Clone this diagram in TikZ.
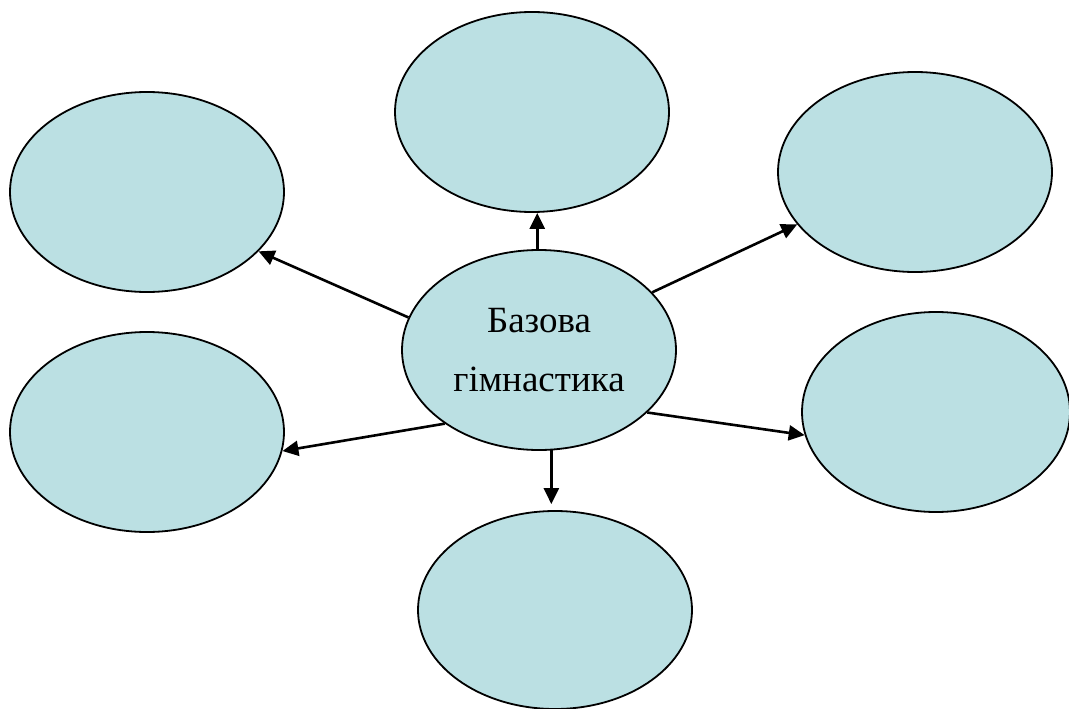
\documentclass[tikz,border=0pt]{standalone}
\usepackage{fontspec}
\setmainfont{Liberation Serif}
\usetikzlibrary{shapes.geometric,arrows.meta}
\definecolor{bubble}{RGB}{187,224,227}
\tikzset{
  bub/.style={ellipse, draw=black, line width=1.8pt, fill=bubble,
    minimum width=274pt, minimum height=200pt, inner sep=0pt},
  conn/.style={line width=2.6pt, -{Triangle[length=16pt,width=15pt]}}
}
\begin{document}
\begin{tikzpicture}[x=1pt,y=-1pt]
\path[use as bounding box, clip] (0,0) rectangle (1069,709);
\fill[white] (0,0) rectangle (1069,709);
\node[bub] (top) at (532,112) {};
\node[bub] (tl) at (147,192) {};
\node[bub] (tr) at (915,172) {};
\node[bub] (bl) at (147,432) {};
\node[bub, minimum width=268pt] (r) at (936,412) {};
\node[bub, minimum height=198pt] (b) at (555,610) {};
\node[bub, align=center, font=\fontsize{37}{59}\selectfont] (c) at (539,350) {Базова\\гімнастика};
\draw[conn] (c.91) -- (c.91 |- top.south);
\draw[conn] (c.166) -- (tl.332);
\draw[conn] (c.27.6) -- (tr.204.5);
\draw[conn] (c.218) -- (bl.352);
\draw[conn] (c.330) -- (r.190);
\draw[conn] (c.-83) -- ([yshift=6pt]c.-83 |- b.north);
\end{tikzpicture}
\end{document}
